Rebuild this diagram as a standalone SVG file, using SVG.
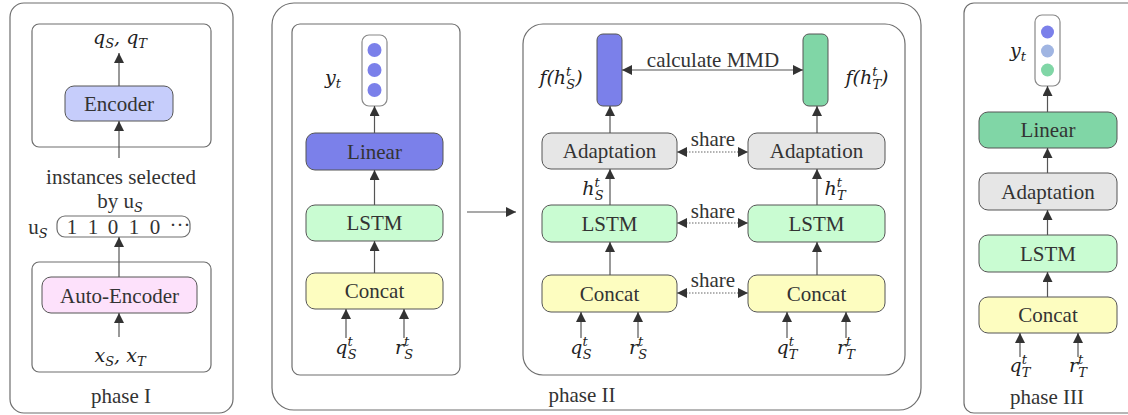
<svg xmlns="http://www.w3.org/2000/svg" width="1128" height="415" viewBox="0 0 1128 415">
<defs>
<marker id="ah" markerUnits="userSpaceOnUse" markerWidth="11" markerHeight="10" viewBox="0 0 11 10" refX="10" refY="5" orient="auto-start-reverse">
<path d="M0,0 L10,5 L0,10 z" fill="#333"/>
</marker>
<style>
.frame{fill:#fff;stroke:#6e6e6e;stroke-width:1.2}
.box{stroke:#555;stroke-width:1}
.t{font-family:"Liberation Serif","Times New Roman",serif;font-size:21px;fill:#333;text-anchor:middle}
.m{font-family:"DejaVu Serif","Liberation Serif",serif;font-size:19px;font-style:italic;fill:#222;text-anchor:middle}
.s{font-size:13px}
.ar{stroke:#555;stroke-width:1.2;fill:none;marker-end:url(#ah)}
.dar{stroke:#555;stroke-width:1.2;fill:none;marker-end:url(#ah);marker-start:url(#ah)}
.dot{stroke:#666;stroke-width:1.2;stroke-dasharray:1.5 1.5;fill:none;marker-end:url(#ah);marker-start:url(#ah)}
.blue{fill:#7b80ea}
.lblue{fill:#c6cdfb}
.pink{fill:#fde1fb}
.green{fill:#c9fcd2}
.yellow{fill:#fdfdc0}
.gray{fill:#e6e6e6}
.teal{fill:#80d6a6}
.out{fill:#fff;stroke:#888;stroke-width:1.2}
</style>
</defs>

<!-- frames -->
<g id="phase1">
<rect class="frame" x="10" y="3" width="223" height="410" rx="14"/>
<rect class="frame" x="32" y="24" width="179" height="123" rx="7"/>
<rect class="frame" x="32" y="262" width="179" height="110" rx="7"/>
<text class="t" x="121" y="403">phase I</text>
</g>
<g id="phase2">
<rect class="frame" x="272" y="3" width="649" height="407" rx="22"/>
<rect class="frame" x="292" y="24" width="168" height="351" rx="8"/>
<rect class="frame" x="523" y="24" width="382" height="351" rx="20"/>
<text class="t" x="582" y="402">phase II</text>
</g>
<g id="phase3">
<rect class="frame" x="964" y="3" width="200" height="410" rx="10"/>
<text class="t" x="1047" y="404">phase III</text>
</g>

<!-- phase I nodes -->
<g id="encoder">
<rect class="box lblue" x="65" y="86" width="108" height="35" rx="9"/>
<text class="t" x="119" y="111">Encoder</text>
</g>
<g id="qout">
<text class="m" x="120" y="44">q<tspan class="s" dy="4">S</tspan><tspan dy="-4">, q</tspan><tspan class="s" dy="4">T</tspan></text>
</g>
<g id="instances">
<text class="t" x="121" y="184">instances selected</text>
<text class="t" x="120" y="208">by u<tspan class="m s" dy="4">S</tspan></text>
</g>
<g id="us">
<text class="t" x="38" y="234">u<tspan class="m s" dy="4">S</tspan></text>
<rect class="frame" x="57" y="216" width="133" height="21" rx="8"/>
<text class="t" x="72" y="234">1</text>
<text class="t" x="93" y="234">1</text>
<text class="t" x="113" y="234">0</text>
<text class="t" x="134" y="234">1</text>
<text class="t" x="155" y="234">0</text>
<text class="t" x="180" y="232">···</text>
</g>
<g id="autoencoder">
<rect class="box pink" x="42" y="277" width="155" height="36" rx="9"/>
<text class="t" x="119.5" y="303">Auto-Encoder</text>
</g>
<g id="xin">
<text class="m" x="120" y="362">x<tspan class="s" dy="4">S</tspan><tspan dy="-4">, x</tspan><tspan class="s" dy="4">T</tspan></text>
</g>

<!-- phase II left -->
<g id="yt2">
<rect class="out" x="362" y="35" width="25" height="71" rx="7"/>
<circle class="blue" cx="374.5" cy="50" r="7"/>
<circle class="blue" cx="374.5" cy="70" r="7"/>
<circle class="blue" cx="374.5" cy="90" r="7"/>
<text class="m" x="333" y="84">y<tspan class="s" dy="4">t</tspan></text>
</g>
<g id="linear2">
<rect class="box blue" x="306" y="133" width="137" height="37" rx="9"/>
<text class="t" x="374.5" y="159">Linear</text>
</g>
<g id="lstm2">
<rect class="box green" x="306" y="205" width="137" height="36" rx="9"/>
<text class="t" x="374.5" y="230">LSTM</text>
</g>
<g id="concat2">
<rect class="box yellow" x="306" y="273" width="137" height="36" rx="9"/>
<text class="t" x="374.5" y="298">Concat</text>
</g>
<g id="in2">
<text class="m" x="346" y="354">q<tspan class="s" dy="-8">t</tspan><tspan class="s" dx="-5" dy="13">S</tspan></text>
<text class="m" x="404" y="354">r<tspan class="s" dy="-8">t</tspan><tspan class="s" dx="-5" dy="13">S</tspan></text>
</g>

<!-- phase II right -->
<g id="fhs">
<rect class="box blue" x="597" y="34" width="25" height="72" rx="6" stroke="#777"/>
<text class="m" x="561" y="84">f(h<tspan class="s" dy="-8">t</tspan><tspan class="s" dx="-5" dy="13">S</tspan><tspan dy="-5">)</tspan></text>
</g>
<g id="fht">
<rect class="box teal" x="803" y="34" width="25" height="72" rx="6" stroke="#777"/>
<text class="m" x="867" y="84">f(h<tspan class="s" dy="-8">t</tspan><tspan class="s" dx="-5" dy="13">T</tspan><tspan dy="-5">)</tspan></text>
</g>
<g id="adaptS">
<rect class="box gray" x="542" y="133" width="135" height="36" rx="9"/>
<text class="t" x="609.5" y="158">Adaptation</text>
</g>
<g id="adaptT">
<rect class="box gray" x="748" y="133" width="137" height="36" rx="9"/>
<text class="t" x="816.5" y="158">Adaptation</text>
</g>
<g id="lstmS">
<rect class="box green" x="542" y="205" width="135" height="37" rx="9"/>
<text class="t" x="609.5" y="231">LSTM</text>
</g>
<g id="lstmT">
<rect class="box green" x="748" y="205" width="137" height="37" rx="9"/>
<text class="t" x="816.5" y="231">LSTM</text>
</g>
<g id="concatS">
<rect class="box yellow" x="542" y="275" width="135" height="37" rx="9"/>
<text class="t" x="609.5" y="301">Concat</text>
</g>
<g id="concatT">
<rect class="box yellow" x="748" y="275" width="137" height="37" rx="9"/>
<text class="t" x="816.5" y="301">Concat</text>
</g>
<g id="hlabels">
<text class="m" x="593" y="195">h<tspan class="s" dy="-8">t</tspan><tspan class="s" dx="-5" dy="13">S</tspan></text>
<text class="m" x="835" y="195">h<tspan class="s" dy="-8">t</tspan><tspan class="s" dx="-5" dy="13">T</tspan></text>
</g>
<g id="in2r">
<text class="m" x="581" y="354">q<tspan class="s" dy="-8">t</tspan><tspan class="s" dx="-5" dy="13">S</tspan></text>
<text class="m" x="638" y="354">r<tspan class="s" dy="-8">t</tspan><tspan class="s" dx="-5" dy="13">S</tspan></text>
<text class="m" x="787" y="354">q<tspan class="s" dy="-8">t</tspan><tspan class="s" dx="-5" dy="13">T</tspan></text>
<text class="m" x="846" y="354">r<tspan class="s" dy="-8">t</tspan><tspan class="s" dx="-5" dy="13">T</tspan></text>
</g>

<!-- phase III -->
<g id="yt3">
<rect class="out" x="1035" y="15" width="25" height="71" rx="7"/>
<circle class="blue" cx="1047.5" cy="32" r="6.5"/>
<circle cx="1047.5" cy="51" r="6.5" fill="#a0b5e2"/>
<circle class="teal" cx="1047.5" cy="70" r="6.5"/>
<text class="m" x="1018" y="57">y<tspan class="s" dy="4">t</tspan></text>
</g>
<g id="linear3">
<rect class="box teal" x="979" y="112" width="138" height="36" rx="9"/>
<text class="t" x="1048" y="137">Linear</text>
</g>
<g id="adapt3">
<rect class="box gray" x="979" y="173" width="138" height="37" rx="9"/>
<text class="t" x="1048" y="199">Adaptation</text>
</g>
<g id="lstm3">
<rect class="box green" x="979" y="235" width="138" height="37" rx="9"/>
<text class="t" x="1048" y="261">LSTM</text>
</g>
<g id="concat3">
<rect class="box yellow" x="979" y="297" width="138" height="36" rx="9"/>
<text class="t" x="1048" y="322">Concat</text>
</g>
<g id="in3">
<text class="m" x="1020" y="372">q<tspan class="s" dy="-8">t</tspan><tspan class="s" dx="-5" dy="13">T</tspan></text>
<text class="m" x="1078" y="372">r<tspan class="s" dy="-8">t</tspan><tspan class="s" dx="-5" dy="13">T</tspan></text>
</g>

<!-- connectors -->
<g id="connectors">
<line class="ar" x1="119" y1="86" x2="119" y2="53"/>
<line class="ar" x1="119" y1="158" x2="119" y2="121"/>
<line class="ar" x1="119" y1="277" x2="119" y2="237"/>
<line class="ar" x1="119" y1="337" x2="119" y2="313"/>

<line class="ar" x1="374.5" y1="133" x2="374.5" y2="106"/>
<line class="ar" x1="374.5" y1="205" x2="374.5" y2="170"/>
<line class="ar" x1="374.5" y1="273" x2="374.5" y2="241"/>
<line class="ar" x1="346" y1="338" x2="346" y2="309"/>
<line class="ar" x1="404" y1="338" x2="404" y2="309"/>
<line class="ar" x1="467" y1="212" x2="516" y2="212"/>

<line class="dar" x1="622" y1="70" x2="803" y2="70"/>
<text class="t" x="713" y="67">calculate MMD</text>
<line class="ar" x1="610" y1="133" x2="610" y2="106"/>
<line class="ar" x1="817" y1="133" x2="817" y2="106"/>
<line class="ar" x1="610" y1="205" x2="610" y2="169"/>
<line class="ar" x1="817" y1="205" x2="817" y2="169"/>
<line class="ar" x1="610" y1="275" x2="610" y2="242"/>
<line class="ar" x1="817" y1="275" x2="817" y2="242"/>
<line class="dot" x1="677" y1="152" x2="748" y2="152"/>
<text class="t" x="713" y="146">share</text>
<line class="dot" x1="677" y1="223" x2="748" y2="223"/>
<text class="t" x="713" y="218">share</text>
<line class="dot" x1="677" y1="293" x2="748" y2="293"/>
<text class="t" x="713" y="287">share</text>
<line class="ar" x1="581" y1="338" x2="581" y2="312"/>
<line class="ar" x1="638" y1="338" x2="638" y2="312"/>
<line class="ar" x1="787" y1="338" x2="787" y2="312"/>
<line class="ar" x1="846" y1="338" x2="846" y2="312"/>

<line class="ar" x1="1047.5" y1="112" x2="1047.5" y2="86"/>
<line class="ar" x1="1047.5" y1="173" x2="1047.5" y2="148"/>
<line class="ar" x1="1047.5" y1="235" x2="1047.5" y2="210"/>
<line class="ar" x1="1047.5" y1="297" x2="1047.5" y2="272"/>
<line class="ar" x1="1020" y1="357" x2="1020" y2="333"/>
<line class="ar" x1="1078" y1="357" x2="1078" y2="333"/>
</g>
</svg>
